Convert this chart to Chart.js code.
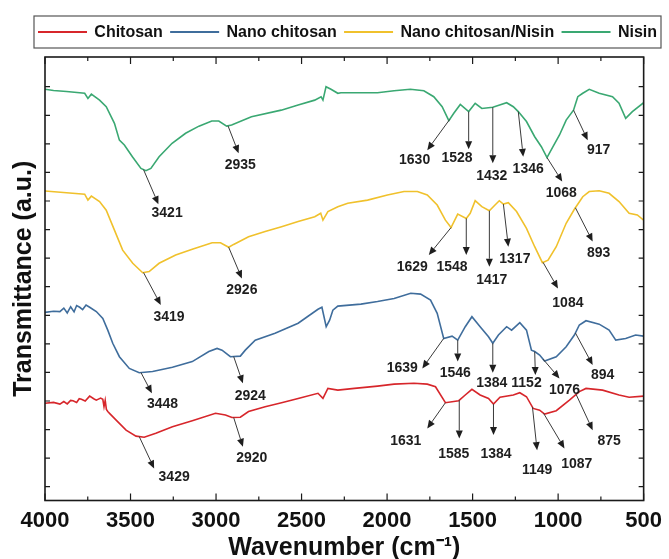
<!DOCTYPE html>
<html>
<head>
<meta charset="utf-8">
<script src="https://cdn.jsdelivr.net/npm/chart.js@4.4.1/dist/chart.umd.min.js"></script>
<style>
  html, body { margin: 0; padding: 0; background: #fff; }
</style>
</head>
<body>
<canvas id="ftirChart" width="669" height="559"></canvas>
<script>
const seriesNames = ["Chitosan", "Nano chitosan", "Nano chitosan/Nisin", "Nisin"];
const seriesColors = ["#d7262b", "#3f6d9c", "#f0c12c", "#3aa872"];

const xTicks = [4000, 3500, 3000, 2500, 2000, 1500, 1000, 500];
const yTicks = [0, 1, 2, 3, 4, 5, 6, 7, 8, 9, 10, 11, 12, 13, 14];

// [wavenumber, transmittance (a.u., offset)]
const chitosan = [
  [4000, 2.92], [3950, 2.95], [3913, 2.89], [3890, 2.98], [3870, 2.90], [3850, 3.02],
  [3836, 3.01], [3815, 2.95], [3800, 3.08], [3787, 3.06], [3765, 3.00], [3739, 3.17],
  [3715, 3.08], [3700, 3.03], [3675, 3.10], [3662, 3.06], [3655, 2.80], [3648, 3.02],
  [3641, 2.70], [3633, 2.63], [3620, 2.55], [3584, 2.33], [3526, 1.98], [3468, 1.77],
  [3420, 1.73], [3352, 1.87], [3255, 2.10], [3139, 2.31], [3003, 2.57], [2945, 2.51],
  [2907, 2.42], [2858, 2.43], [2810, 2.63], [2713, 2.80], [2617, 2.94], [2520, 3.09],
  [2404, 3.27], [2375, 3.09], [2346, 3.44], [2288, 3.38], [2191, 3.44], [2056, 3.52],
  [1959, 3.59], [1843, 3.62], [1765, 3.59], [1717, 3.50], [1659, 2.94], [1581, 3.01],
  [1543, 3.21], [1504, 3.41], [1456, 3.21], [1407, 3.09], [1378, 2.89], [1340, 3.13],
  [1262, 3.21], [1224, 3.29], [1185, 3.15], [1146, 2.74], [1108, 2.68], [1079, 2.54],
  [1011, 2.66], [934, 3.03], [876, 3.33], [837, 3.44], [740, 3.38], [644, 3.21],
  [585, 3.13], [500, 3.17]
];

const nanoChitosan = [
  [4000, 6.10], [3950, 6.14], [3913, 6.13], [3890, 6.25], [3870, 6.08], [3850, 6.30],
  [3830, 6.12], [3815, 6.34], [3797, 6.28], [3780, 6.20], [3760, 6.36], [3739, 6.28],
  [3700, 6.13], [3662, 5.89], [3633, 5.48], [3604, 5.02], [3565, 4.55], [3507, 4.14],
  [3449, 3.99], [3371, 4.03], [3255, 4.18], [3139, 4.38], [3042, 4.73], [2994, 4.84],
  [2965, 4.78], [2916, 4.55], [2858, 4.57], [2829, 4.78], [2771, 5.13], [2655, 5.37],
  [2520, 5.72], [2404, 6.21], [2381, 6.28], [2356, 5.60], [2336, 5.83], [2317, 6.18],
  [2288, 6.32], [2153, 6.39], [2056, 6.48], [1959, 6.59], [1862, 6.77], [1804, 6.74],
  [1746, 6.53], [1707, 6.07], [1669, 5.19], [1620, 5.27], [1587, 5.13], [1543, 5.60],
  [1504, 5.95], [1456, 5.60], [1407, 5.25], [1382, 5.02], [1349, 5.31], [1301, 5.60],
  [1272, 5.48], [1224, 5.74], [1185, 5.48], [1156, 4.78], [1137, 4.73], [1108, 4.61],
  [1079, 4.40], [1011, 4.55], [953, 4.90], [905, 5.31], [876, 5.66], [837, 5.81],
  [760, 5.69], [702, 5.48], [663, 5.13], [605, 5.19], [547, 5.31], [500, 5.27]
];

const nanoChitosanNisin = [
  [4000, 10.35], [3874, 10.29], [3768, 10.24], [3749, 10.03], [3729, 10.17], [3681, 9.98],
  [3642, 9.68], [3594, 8.98], [3546, 8.28], [3487, 7.82], [3429, 7.49], [3391, 7.53],
  [3333, 7.82], [3236, 8.11], [3139, 8.31], [3023, 8.54], [2974, 8.54], [2926, 8.38],
  [2897, 8.48], [2810, 8.75], [2713, 8.93], [2617, 9.10], [2520, 9.28], [2423, 9.45],
  [2388, 9.57], [2375, 9.33], [2346, 9.63], [2288, 9.80], [2230, 9.92], [2114, 10.03],
  [1998, 10.21], [1901, 10.33], [1823, 10.33], [1765, 10.21], [1707, 9.86], [1659, 9.33],
  [1626, 9.07], [1587, 9.54], [1537, 9.39], [1514, 9.57], [1485, 10.01], [1446, 9.80],
  [1402, 9.66], [1369, 9.86], [1344, 10.01], [1320, 9.89], [1291, 9.94], [1243, 9.63],
  [1185, 9.04], [1137, 8.40], [1092, 7.84], [1059, 7.93], [1011, 8.40], [953, 9.22],
  [905, 9.71], [856, 10.15], [818, 10.33], [760, 10.36], [702, 10.27], [644, 9.98],
  [585, 9.57], [537, 9.51], [500, 9.33]
];

const nisin = [
  [4000, 13.91], [3950, 13.87], [3874, 13.83], [3768, 13.77], [3749, 13.59], [3729, 13.74],
  [3681, 13.53], [3642, 13.30], [3594, 12.72], [3565, 12.13], [3536, 11.96], [3489, 11.55],
  [3439, 11.14], [3410, 11.06], [3381, 11.14], [3333, 11.55], [3257, 12.02], [3178, 12.37],
  [3100, 12.62], [3025, 12.80], [2984, 12.80], [2938, 12.62], [2909, 12.66], [2793, 12.95],
  [2619, 13.18], [2520, 13.36], [2423, 13.53], [2386, 13.65], [2375, 13.53], [2357, 14.00],
  [2328, 13.91], [2288, 13.77], [2270, 13.79], [2154, 13.79], [2056, 13.79], [1959, 13.86],
  [1864, 13.91], [1785, 13.86], [1727, 13.65], [1678, 13.30], [1639, 12.81], [1610, 13.07],
  [1572, 13.38], [1523, 13.13], [1485, 13.42], [1446, 13.24], [1382, 13.28], [1342, 13.36],
  [1301, 13.44], [1262, 13.30], [1233, 13.13], [1185, 12.78], [1137, 12.25], [1098, 11.90],
  [1065, 11.52], [1030, 11.90], [992, 12.31], [953, 12.83], [910, 13.18], [885, 13.65],
  [856, 13.77], [818, 13.91], [760, 13.77], [682, 13.65], [644, 13.42], [605, 12.89],
  [566, 13.13], [500, 13.44]
];

// peak labels per series
const chitosanPeaks = ["3429", "2920", "1631", "1585", "1384", "1149", "1087", "875"];
const nanoChitosanPeaks = ["3448", "2924", "1639", "1546", "1384", "1152", "1076", "894"];
const nanoChitosanNisinPeaks = ["3419", "2926", "1629", "1548", "1417", "1317", "1084", "893"];
const nisinPeaks = ["3421", "2935", "1630", "1528", "1432", "1346", "1068", "917"];

// arrow layout: [start wavenumber on curve, tip x, tip y, label x, label y] (data units)
const chitosanArrows = [
  [3449, 3362, 0.64, 3245, 0.32], [2897, 2843, 1.40, 2791, 0.99],
  [1659, 1765, 2.04, 1891, 1.58], [1578, 1578, 1.69, 1610, 1.14],
  [1378, 1378, 1.81, 1363, 1.14], [1150, 1123, 1.28, 1123, 0.58],
  [1085, 963, 1.34, 891, 0.78], [895, 798, 1.98, 702, 1.60]
];
const nanoChitosanArrows = [
  [3439, 3375, 3.27, 3313, 2.89], [2897, 2843, 3.62, 2800, 3.17],
  [1669, 1794, 4.14, 1911, 4.14], [1587, 1587, 4.38, 1601, 3.97],
  [1382, 1382, 3.99, 1388, 3.64], [1137, 1133, 3.91, 1185, 3.62],
  [1088, 992, 3.79, 963, 3.38], [899, 798, 4.26, 740, 3.89]
];
const nanoChitosanNisinArrows = [
  [3424, 3323, 6.36, 3275, 5.93], [2926, 2849, 7.29, 2849, 6.88],
  [1626, 1756, 8.11, 1853, 7.70], [1537, 1537, 8.11, 1620, 7.68],
  [1402, 1402, 7.70, 1388, 7.23], [1320, 1291, 8.40, 1253, 7.96],
  [1088, 1001, 6.94, 943, 6.44], [899, 798, 8.58, 763, 8.17]
];
const nisinArrows = [
  [3424, 3337, 9.89, 3286, 9.58], [2930, 2868, 11.67, 2858, 11.26],
  [1634, 1765, 11.78, 1839, 11.43], [1523, 1523, 11.81, 1591, 11.49],
  [1382, 1382, 11.32, 1388, 10.87], [1233, 1204, 11.55, 1175, 11.11],
  [1065, 976, 10.68, 982, 10.29], [910, 827, 12.13, 763, 11.78]
];

const allSeries = [chitosan, nanoChitosan, nanoChitosanNisin, nisin];
const allPeaks = [chitosanPeaks, nanoChitosanPeaks, nanoChitosanNisinPeaks, nisinPeaks];
const allArrows = [chitosanArrows, nanoChitosanArrows, nanoChitosanNisinArrows, nisinArrows];

const FONT = "'Liberation Sans', Arial, sans-serif";
Chart.defaults.font.family = FONT;

function valueAt(pts, w) {
  for (let i = 0; i < pts.length - 1; i++) {
    const [w0, u0] = pts[i];
    const [w1, u1] = pts[i + 1];
    if (w <= w0 && w >= w1) {
      const t = (w0 - w) / ((w0 - w1) || 1);
      return u0 + t * (u1 - u0);
    }
  }
  return pts[pts.length - 1][1];
}

// box + inward ticks on all four sides
const framePlugin = {
  id: "frame",
  afterDatasetsDraw(chart) {
    const { ctx, chartArea: a, scales: { x, y } } = chart;
    ctx.save();
    ctx.strokeStyle = "#1a1a1a";
    ctx.lineWidth = 1.2;
    ctx.beginPath();
    x.ticks.forEach((t, i) => {
      const px = x.getPixelForValue(t.value);
      ctx.moveTo(px, a.bottom); ctx.lineTo(px, a.bottom - 7);
      ctx.moveTo(px, a.top); ctx.lineTo(px, a.top + 7);
      if (i < x.ticks.length - 1) {
        const m = x.getPixelForValue((t.value + x.ticks[i + 1].value) / 2);
        ctx.moveTo(m, a.bottom); ctx.lineTo(m, a.bottom - 4);
        ctx.moveTo(m, a.top); ctx.lineTo(m, a.top + 4);
      }
    });
    y.ticks.forEach(t => {
      const py = y.getPixelForValue(t.value);
      ctx.moveTo(a.left, py); ctx.lineTo(a.left + 5, py);
      ctx.moveTo(a.right, py); ctx.lineTo(a.right - 5, py);
    });
    ctx.stroke();
    ctx.lineWidth = 1.6;
    ctx.strokeRect(a.left, a.top, a.right - a.left, a.bottom - a.top);
    ctx.restore();
  }
};

// peak arrows and wavenumber labels
const peakPlugin = {
  id: "peaks",
  afterDatasetsDraw(chart) {
    const { ctx, scales: { x, y } } = chart;
    ctx.save();
    ctx.strokeStyle = "#3a3a3a";
    ctx.fillStyle = "#1e1e1e";
    ctx.lineWidth = 1;
    ctx.font = "bold 14px " + FONT;
    ctx.textAlign = "center";
    ctx.textBaseline = "middle";
    allArrows.forEach((arrows, s) => {
      arrows.forEach((a, k) => {
        const x0 = x.getPixelForValue(a[0]);
        const y0 = y.getPixelForValue(valueAt(allSeries[s], a[0]));
        const x1 = x.getPixelForValue(a[1]);
        const y1 = y.getPixelForValue(a[2]);
        const ang = Math.atan2(y1 - y0, x1 - x0);
        const head = 8, half = 3.5;
        const bx = x1 - head * Math.cos(ang), by = y1 - head * Math.sin(ang);
        ctx.beginPath();
        ctx.moveTo(x0, y0);
        ctx.lineTo(bx, by);
        ctx.stroke();
        ctx.beginPath();
        ctx.moveTo(x1, y1);
        ctx.lineTo(bx + half * Math.sin(ang), by - half * Math.cos(ang));
        ctx.lineTo(bx - half * Math.sin(ang), by + half * Math.cos(ang));
        ctx.closePath();
        ctx.fill();
        ctx.fillText(allPeaks[s][k], x.getPixelForValue(a[3]), y.getPixelForValue(a[4]));
      });
    });
    ctx.restore();
  }
};

// boxed legend above the plot
const legendPlugin = {
  id: "boxLegend",
  afterDraw(chart) {
    const ctx = chart.ctx;
    const left = 34, top = 16, right = 661, bottom = 48;
    const lineW = 49, start = 38, end = 657;
    ctx.save();
    ctx.strokeStyle = "#555";
    ctx.lineWidth = 1.2;
    ctx.strokeRect(left, top, right - left, bottom - top);
    ctx.font = "bold 16px " + FONT;
    ctx.textBaseline = "middle";
    ctx.textAlign = "left";
    const items = chart.data.datasets;
    const widths = items.map(d => ctx.measureText(d.label).width);
    const sum = widths.reduce((p, c) => p + c, 0);
    const gap = (end - start - items.length * lineW - sum) / (items.length * 2 - 1);
    const cy = (top + bottom) / 2;
    let cx = start;
    items.forEach((d, i) => {
      ctx.strokeStyle = d.borderColor;
      ctx.lineWidth = 2;
      ctx.beginPath();
      ctx.moveTo(cx, cy);
      ctx.lineTo(cx + lineW, cy);
      ctx.stroke();
      cx += lineW + gap;
      ctx.fillStyle = "#111";
      ctx.fillText(d.label, cx, cy + 1);
      cx += widths[i] + gap;
    });
    ctx.restore();
  }
};

const datasets = allSeries.map((pts, i) => ({
  label: seriesNames[i],
  data: pts.map(p => ({ x: p[0], y: p[1] })),
  borderColor: seriesColors[i],
  backgroundColor: seriesColors[i],
  borderWidth: 1.6,
  pointRadius: 0,
  tension: 0,
  fill: false
}));

new Chart(document.getElementById("ftirChart"), {
  type: "line",
  data: { datasets },
  options: {
    responsive: false,
    animation: false,
    devicePixelRatio: 1,
    layout: { padding: { top: 57, right: 21, left: 0, bottom: 0 } },
    plugins: {
      legend: { display: false },
      tooltip: { enabled: false }
    },
    scales: {
      x: {
        type: "linear",
        min: 500,
        max: 4000,
        reverse: true,
        afterBuildTicks: s => { s.ticks = xTicks.map(v => ({ value: v })); },
        afterFit: s => { s.height = 58.5; },
        grid: { display: false, drawTicks: false },
        border: { display: false },
        ticks: {
          color: "#111",
          padding: 7,
          maxRotation: 0,
          autoSkip: false,
          callback: v => String(v),
          font: { size: 22, weight: "bold" }
        },
        title: {
          display: true,
          text: "Wavenumber (cm⁻¹)",
          color: "#111",
          padding: 0,
          font: { size: 25, weight: "bold", lineHeight: 0.85 }
        }
      },
      y: {
        type: "linear",
        min: -0.483,
        max: 15.04,
        afterBuildTicks: s => { s.ticks = yTicks.map(v => ({ value: v })); },
        afterFit: s => { s.width = 45; },
        grid: { display: false, drawTicks: false },
        border: { display: false },
        ticks: { display: false },
        title: {
          display: true,
          text: "Transmittance (a.u.)",
          color: "#111",
          padding: { top: 9, bottom: 0 },
          font: { size: 25, weight: "bold" }
        }
      }
    }
  },
  plugins: [framePlugin, peakPlugin, legendPlugin]
});
</script>
</body>
</html>
